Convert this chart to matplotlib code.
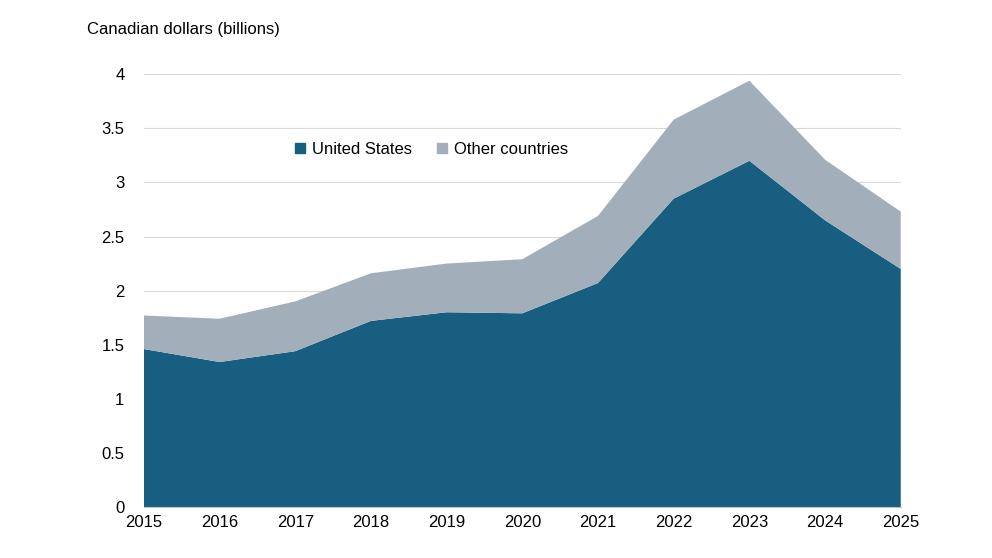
import matplotlib
matplotlib.use("Agg")
import matplotlib.pyplot as plt
from matplotlib.patches import Patch

years = [2015, 2016, 2017, 2018, 2019, 2020, 2021, 2022, 2023, 2024, 2025]
us = [1.46, 1.34, 1.44, 1.72, 1.80, 1.79, 2.07, 2.85, 3.20, 2.65, 2.20]
total = [1.77, 1.74, 1.90, 2.16, 2.25, 2.29, 2.69, 3.58, 3.94, 3.21, 2.73]
other = [t - u for t, u in zip(total, us)]

plt.rcParams['font.family'] = ['Liberation Sans', 'DejaVu Sans']
fig = plt.figure(figsize=(9.92, 5.58), dpi=100)
ax = fig.add_axes([0.145, 0.0914, 0.763, 0.7756])
c_us, c_ot = '#175E80', '#A2AFBA'
ax.stackplot(years, us, other, colors=[c_us, c_ot], linewidth=0)
ax.set_xlim(2015, 2025)
ax.set_ylim(0, 4)
ax.set_xticks(years)
ax.set_yticks([0, 0.5, 1, 1.5, 2, 2.5, 3, 3.5, 4])
ax.set_yticklabels(['0', '0.5', '1', '1.5', '2', '2.5', '3', '3.5', '4'])
ax.grid(axis='y', color='#D9D9D9', linewidth=0.8)
ax.set_axisbelow(True)
for s in ['top', 'right', 'left']:
    ax.spines[s].set_visible(False)
ax.spines['bottom'].set_color('#BFBFBF')
ax.tick_params(axis='both', length=0, labelsize=12, colors='black')
ax.tick_params(axis='x', pad=6)
ax.tick_params(axis='y', pad=14)
fig.text(0.088, 0.947, 'Canadian dollars (billions)', fontsize=12, va='center')
handles = [Patch(color=c_us, label='United States'), Patch(color=c_ot, label='Other countries')]
ax.legend(handles=handles, loc='center', bbox_to_anchor=(0.38, 0.826), ncol=2, frameon=False,
          fontsize=12, handlelength=0.6, handleheight=0.6, handletextpad=0.4, columnspacing=1.5)
fig.savefig('out.png', dpi=100)
